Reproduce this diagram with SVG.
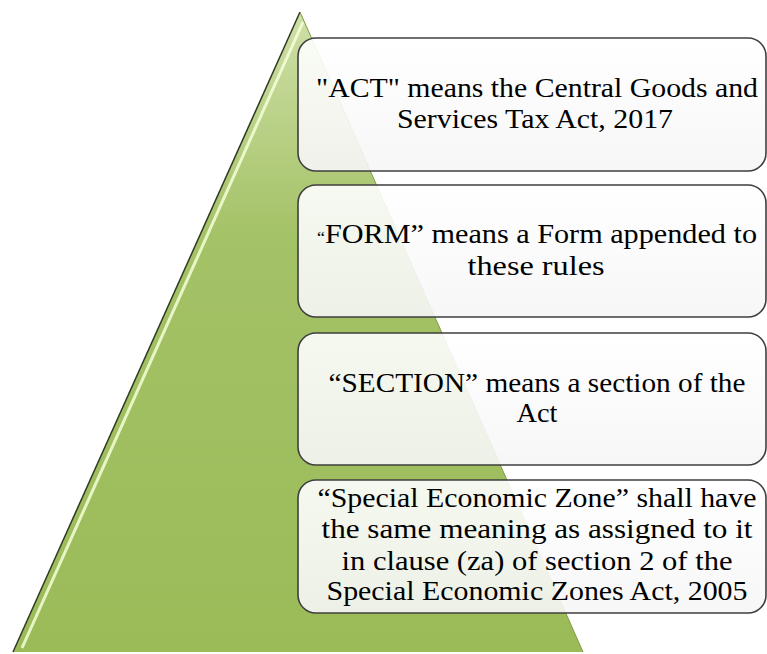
<svg xmlns="http://www.w3.org/2000/svg" width="767" height="654" viewBox="0 0 767 654">
  <style>
    .box { fill: url(#boxGrad); fill-opacity: 0.9; stroke: #3f3f3f; stroke-width: 1.6; }
    .txt { font-family: "Liberation Serif", "DejaVu Serif", serif; font-size: 27px; fill: #000; text-anchor: middle; }
  </style>
  <defs>
    <linearGradient id="triGrad" x1="0" y1="0" x2="0" y2="1">
      <stop offset="0" stop-color="#cfe0a8"/>
      <stop offset="0.35" stop-color="#a4c266"/>
      <stop offset="1" stop-color="#9bbb59"/>
    </linearGradient>
    <linearGradient id="boxGrad" x1="0" y1="0" x2="0" y2="1">
      <stop offset="0" stop-color="#ffffff"/>
      <stop offset="1" stop-color="#f6f6f6"/>
    </linearGradient>
  </defs>

  <g id="pyramid">
    <polygon points="300,12 583,652 13,652" fill="url(#triGrad)"/>
    <line x1="303" y1="22" x2="22" y2="648" stroke="#f4ffd8" stroke-width="3" stroke-opacity="0.85"/>
    <line x1="300" y1="12" x2="13" y2="652" stroke="#2f3a22" stroke-width="1.5"/>
    <line x1="300" y1="12" x2="583" y2="652" stroke="#7d9a45" stroke-width="1"/>
  </g>

  <g id="node-act">
    <rect class="box" x="298" y="38" width="468" height="133" rx="18"/>
    <text class="txt" x="537" y="97" textLength="442" lengthAdjust="spacingAndGlyphs">"ACT" means the Central Goods and</text>
    <text class="txt" x="535" y="128" textLength="276" lengthAdjust="spacingAndGlyphs">Services Tax Act, 2017</text>
  </g>

  <g id="node-form">
    <rect class="box" x="298" y="185" width="468" height="132" rx="18"/>
    <text class="txt" x="537" y="243" textLength="440" lengthAdjust="spacingAndGlyphs"><tspan font-size="16">“</tspan>FORM” means a Form appended to</text>
    <text class="txt" x="536" y="275" textLength="137" lengthAdjust="spacingAndGlyphs">these rules</text>
  </g>

  <g id="node-section">
    <rect class="box" x="298" y="333" width="468" height="132" rx="18"/>
    <text class="txt" x="537" y="392" textLength="417" lengthAdjust="spacingAndGlyphs">“SECTION” means a section of the</text>
    <text class="txt" x="537" y="422" textLength="41" lengthAdjust="spacingAndGlyphs">Act</text>
  </g>

  <g id="node-sez">
    <rect class="box" x="298" y="480" width="468" height="133" rx="18"/>
    <text class="txt" x="537" y="507" textLength="439" lengthAdjust="spacingAndGlyphs">“Special Economic Zone” shall have</text>
    <text class="txt" x="537" y="538" textLength="431" lengthAdjust="spacingAndGlyphs">the same meaning as assigned to it</text>
    <text class="txt" x="537" y="570" textLength="391" lengthAdjust="spacingAndGlyphs">in clause (za) of section 2 of the</text>
    <text class="txt" x="537" y="600" textLength="421" lengthAdjust="spacingAndGlyphs">Special Economic Zones Act, 2005</text>
  </g>

  <g id="connectors"/>
</svg>
